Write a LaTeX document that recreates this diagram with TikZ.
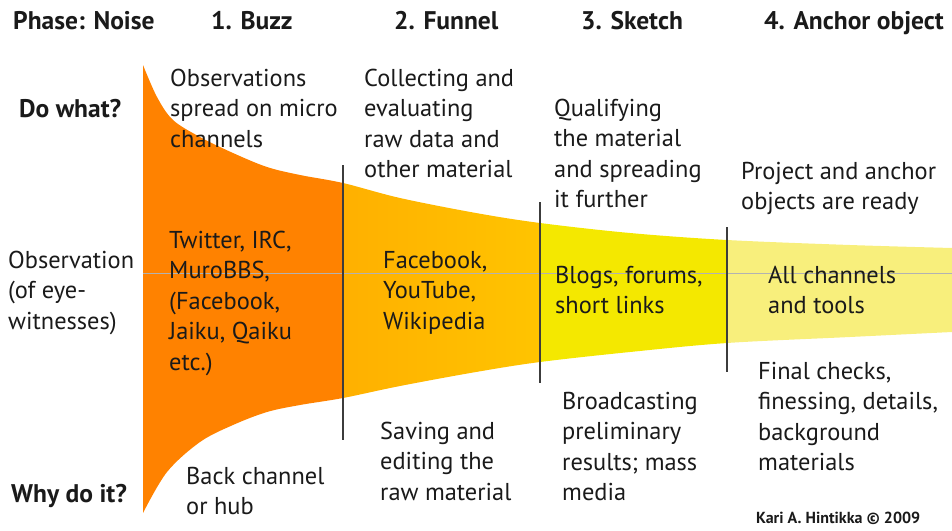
\documentclass[tikz,border=0pt]{standalone}
\usepackage{fontspec}
\setmainfont{PT Sans}
\usepackage{tikz}

\definecolor{buzzorange}{HTML}{FF8200}
\definecolor{funnelleft}{HTML}{FFB000}
\definecolor{funnelright}{HTML}{FFC400}
\definecolor{sketchyellow}{HTML}{F4E800}
\definecolor{anchorpale}{HTML}{F8EF7C}
\definecolor{ink}{HTML}{1A1A1A}

% outline of the funnel, in pixel units
\newcommand\funnelpath{%
  plot[smooth,tension=0.55] coordinates {(143,65) (157,97) (173,120) (200,137)
    (233,153) (267,167) (300,175) (343,183) (400,198) (476,213) (540,223)
    (630,233) (727,240) (850,245) (952,248)}
  -- plot[smooth,tension=0.55] coordinates {(952,332) (850,337) (727,343)
    (630,352) (540,362) (476,372) (400,386) (343,398) (300,405) (267,412)
    (233,425) (200,442) (167,472) (143,513)}
  -- cycle}

\begin{document}
\begin{tikzpicture}[
  x=1pt, y=-1pt,
  txt/.style ={anchor=north west, inner sep=0pt, align=left, text=ink,
               font=\fontsize{24.4}{30.4}\selectfont},
  head/.style={anchor=north west, inner sep=0pt, text=ink,
               font=\bfseries\fontsize{25.5}{30}\selectfont},
  divider/.style={draw=ink!85, line width=1.6pt},
  midline/.style={draw=black!30, line width=0.6pt}
]
\useasboundingbox (0,0) rectangle (952,530);

% coloured phases inside the funnel
\begin{scope}
  \clip \funnelpath;
  \fill[buzzorange] (143,0) rectangle (343,530);
  \shade[left color=funnelleft, right color=funnelright] (343,0) rectangle (540,530);
  \fill[sketchyellow] (540,0) rectangle (727,530);
  \fill[anchorpale] (727,0) rectangle (952,530);
  \draw[midline] (143,273) -- (952,273);
\end{scope}

\foreach \x/\ya/\yb in {343/165/440, 540/202/383, 727/227/372}
  \draw[divider] (\x,\ya) -- (\x,\yb);

% column headings
\node[head] (noise)  at (13,11)  {Phase: Noise};
\node[head] (buzz)   at (211,11) {1. Buzz};
\node[head] (funnel) at (394,11) {2. Funnel};
\node[head] (sketch) at (581,11) {3. Sketch};
\node[head] (anchor) at (764,11) {4. Anchor object};

% row headings
\node[head] (dowhat) at (19,99)  {Do what?};
\node[txt]  (obs)    at (8,251)  {Observation\\(of eye-\\witnesses)};
\node[head] (why)    at (11,484) {Why do it?};

% 1. Buzz
\node[txt] (buzzdo)  at (170,69)  {Observations\\spread on micro\\channels};
\node[txt] (buzzch)  at (169,231) {Twitter, IRC,\\MuroBBS,\\(Facebook,\\Jaiku, Qaiku\\etc.)};
\node[txt] (buzzwhy) at (186,467) {Back channel\\or hub};

% 2. Funnel
\node[txt] (funneldo)  at (364,69)  {Collecting and\\evaluating\\raw data and\\other material};
\node[txt] (funnelch)  at (383,251) {Facebook,\\YouTube,\\Wikipedia};
\node[txt] (funnelwhy) at (380,422) {Saving and\\editing the\\raw material};

% 3. Sketch
\node[txt] (sketchdo)  at (554,99)  {Qualifying\\the material\\and spreading\\it further};
\node[txt] (sketchch)  at (555,266) {Blogs, forums,\\short links};
\node[txt] (sketchwhy) at (562,392) {Broadcasting\\preliminary\\results; mass\\media};

% 4. Anchor object
\node[txt] (anchordo)  at (741,162) {Project and anchor\\objects are ready};
\node[txt] (anchorch)  at (768,266) {All channels\\and tools};
\node[txt] (anchorwhy) at (758,362) {Final checks,\\finessing, details,\\background\\materials};

\node[anchor=north west, inner sep=0pt, text=ink, font=\bfseries\fontsize{16}{19}\selectfont]
  (credit) at (756,512) {Kari A. Hintikka © 2009};
\end{tikzpicture}
\end{document}
